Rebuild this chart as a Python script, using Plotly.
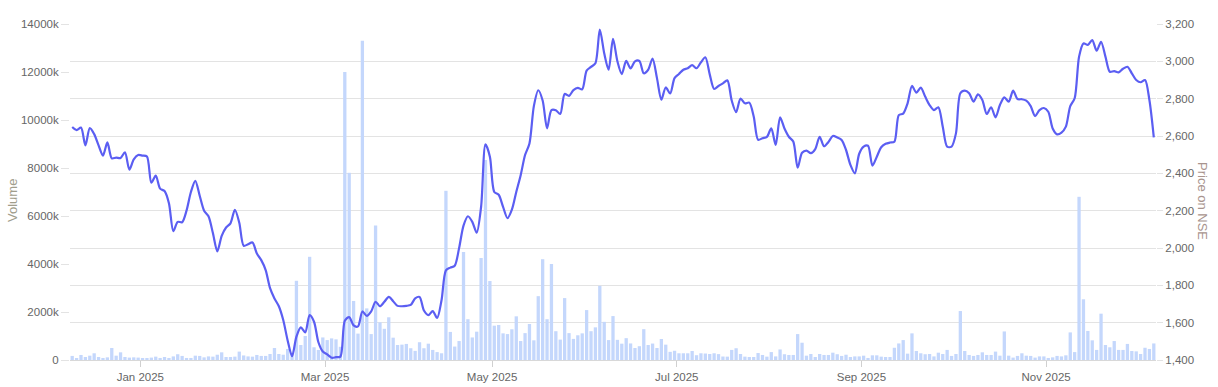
import pandas as pd
import plotly.graph_objects as go

# ---- trading calendar (NSE) ----
start_date = "2024-12-09"
end_date = "2025-12-08"
holidays = ["2024-12-25", "2025-02-26", "2025-03-14", "2025-03-31", "2025-04-10",
            "2025-04-14", "2025-04-18", "2025-05-01", "2025-08-15", "2025-08-27",
            "2025-10-02", "2025-10-21", "2025-10-22", "2025-11-05"]
dates = [d for d in pd.bdate_range(start_date, end_date)
         if d.strftime("%Y-%m-%d") not in holidays]

# ---- daily volume (thousands of shares) ----
volume_k = [
    170, 80, 210, 125, 180, 280, 125, 85, 110, 500,
    180, 320, 125, 100, 110, 100, 70, 70, 100, 140,
    85, 125, 85, 150, 240, 170, 85, 85, 180, 170,
    110, 150, 140, 220, 320, 125, 125, 140, 350, 190,
    150, 140, 210, 170, 170, 250, 500, 250, 220, 460,
    300, 3300, 625, 1000, 4300, 530, 420, 940, 830, 900,
    860, 550, 12000, 7800, 2460, 1100, 13300, 2150, 1080, 5600,
    1570, 1300, 1780, 930, 625, 640, 670, 490, 380, 740,
    490, 680, 420, 330, 280, 7050, 1170, 560, 790, 4500,
    1700, 940, 1180, 4250, 8330, 3290, 1430, 1460, 1110, 1080,
    1280, 1820, 790, 1120, 1500, 820, 2660, 4200, 1700, 4000,
    1200, 850, 2580, 1120, 880, 1030, 1110, 2080, 1200, 1360,
    3090, 1590, 830, 1830, 840, 680, 910, 690, 500, 575,
    1285, 625, 685, 500, 875, 640, 340, 385, 280, 280,
    280, 375, 200, 280, 270, 250, 280, 245, 145, 140,
    420, 490, 250, 140, 125, 125, 290, 210, 140, 330,
    150, 440, 240, 210, 210, 1080, 720, 180, 250, 125,
    250, 210, 210, 305, 240, 170, 220, 125, 150, 150,
    180, 85, 195, 195, 140, 125, 125, 510, 690, 830,
    265, 1110, 375, 280, 240, 250, 150, 305, 250, 420,
    170, 250, 2040, 375, 210, 170, 210, 320, 210, 210,
    350, 180, 1190, 180, 100, 170, 280, 180, 170, 100,
    150, 150, 85, 110, 170, 150, 195, 1150, 330, 6800,
    2530, 1210, 820, 420, 1930, 625, 530, 790, 420, 420,
    670, 375, 360, 250, 510, 460, 690,
]

# ---- daily closing price on NSE ----
price = [
    2648, 2632, 2645, 2550, 2642, 2610, 2550, 2495, 2566, 2480,
    2484, 2482, 2512, 2420, 2475, 2498, 2495, 2490, 2350, 2388,
    2318, 2305, 2240, 2090, 2140, 2138, 2200, 2300, 2360, 2280,
    2200, 2170, 2080, 1982, 2065, 2110, 2132, 2205, 2135, 2012,
    2020, 2030, 1970, 1935, 1882, 1785, 1730, 1688, 1614, 1505,
    1420, 1525, 1575, 1548, 1640, 1605, 1495, 1445, 1430, 1412,
    1415, 1418, 1610, 1630, 1585, 1580, 1660, 1636, 1660, 1712,
    1688, 1712, 1738, 1715, 1690, 1688, 1690, 1695, 1730, 1738,
    1665, 1640, 1662, 1625, 1720, 1880, 1895, 1905, 2000, 2120,
    2170, 2140, 2082, 2221, 2555, 2489, 2300, 2285, 2220, 2160,
    2205, 2300, 2390, 2498, 2560, 2760, 2845, 2790, 2641, 2739,
    2738, 2718, 2825, 2815, 2846, 2858, 2850, 2950, 2970, 2990,
    3170, 3043, 2955, 3120, 3000, 2932, 3002, 2962, 3000, 3002,
    2936, 2955, 3015, 2910, 2795, 2860, 2828, 2910, 2932, 2955,
    2963, 2980, 2963, 2995, 3022, 2930, 2852, 2868, 2882, 2898,
    2790, 2728, 2800, 2775, 2779, 2705, 2580, 2588, 2595, 2641,
    2552, 2700, 2640, 2596, 2570, 2430, 2510, 2522, 2508, 2530,
    2596, 2545, 2568, 2600, 2592, 2579, 2525, 2445, 2400, 2505,
    2543, 2548, 2441, 2489, 2540, 2558, 2565, 2569, 2712, 2720,
    2775, 2868, 2832, 2859, 2811, 2766, 2739, 2754, 2650, 2543,
    2543, 2614, 2829, 2843, 2829, 2784, 2823, 2793, 2718, 2754,
    2700, 2766, 2807, 2784, 2843, 2798, 2797, 2789, 2760, 2707,
    2739, 2750, 2730, 2640, 2609, 2618, 2650, 2760, 2802, 3025,
    3096, 3088, 3114, 3057, 3105, 3025, 2944, 2948, 2941, 2960,
    2971, 2936, 2900, 2888, 2900, 2793, 2593,
]

# ---- axis labels ----
month_ticks = ["2025-01", "2025-03", "2025-05", "2025-07", "2025-09", "2025-11"]
month_labels = ["Jan 2025", "Mar 2025", "May 2025", "Jul 2025", "Sep 2025", "Nov 2025"]
vol_ticks = [0, 2000, 4000, 6000, 8000, 10000, 12000, 14000]
vol_labels = ["0", "2000k", "4000k", "6000k", "8000k", "10000k", "12000k", "14000k"]

n = len(dates)
pos = list(range(n))
date_str = [d.strftime("%Y-%m") for d in dates]
tick_pos = [date_str.index(m) - 0.5 for m in month_ticks]

FONT = "Arial, Liberation Sans, sans-serif"
LABEL = dict(family=FONT, size=11.5, color="#666666")

fig = go.Figure()
fig.add_trace(go.Bar(
    x=pos, y=volume_k, name="Volume", yaxis="y",
    marker=dict(color="#c4d7fc", line=dict(width=0)),
    hovertext=[d.strftime("%d %b %Y") for d in dates],
))
fig.add_trace(go.Scatter(
    x=pos, y=price, name="Price on NSE", yaxis="y2", mode="lines",
    line=dict(color="#5b5ef2", width=2.2, shape="spline", smoothing=0.8),
    hovertext=[d.strftime("%d %b %Y") for d in dates],
))

fig.update_layout(
    width=1218, height=387,
    margin=dict(l=70, r=62, t=24, b=27, autoexpand=False),
    paper_bgcolor="white", plot_bgcolor="white",
    showlegend=False, bargap=0.25,
    font=dict(family=FONT, color="#666666"),
    xaxis=dict(
        range=[-0.5, n - 0.5], tickmode="array", tickvals=tick_pos, ticktext=month_labels,
        showgrid=False, zeroline=False, showline=True, linecolor="#d8d8d8", linewidth=1,
        ticks="outside", ticklen=6, tickcolor="#d0d0d0", tickfont=LABEL, automargin=False,
    ),
    yaxis=dict(
        range=[0, 14000], tickmode="array", tickvals=vol_ticks, ticktext=vol_labels,
        showgrid=False, zeroline=False, showline=False,
        ticks="outside", ticklen=8, tickcolor="#e3e3e3", tickfont=LABEL, automargin=False,
    ),
    yaxis2=dict(
        range=[1400, 3200], dtick=200, tickformat=",", overlaying="y", side="right",
        showgrid=True, gridcolor="#e3e3e3", gridwidth=1, zeroline=False, showline=False,
        ticks="outside", ticklen=6, tickcolor="#e3e3e3", tickfont=LABEL, automargin=False,
    ),
    annotations=[
        dict(text="Volume", xref="paper", yref="paper", x=(12 - 70) / 1086, y=(360 - 201) / 336,
             textangle=-90, showarrow=False, xanchor="center", yanchor="middle",
             font=dict(family=FONT, size=13, color="#a09d8c")),
        dict(text="Price on NSE", xref="paper", yref="paper", x=(1203 - 70) / 1086, y=(360 - 201) / 336,
             textangle=90, showarrow=False, xanchor="center", yanchor="middle",
             font=dict(family=FONT, size=13, color="#a8948e")),
    ],
)

fig.write_html("out.html")
